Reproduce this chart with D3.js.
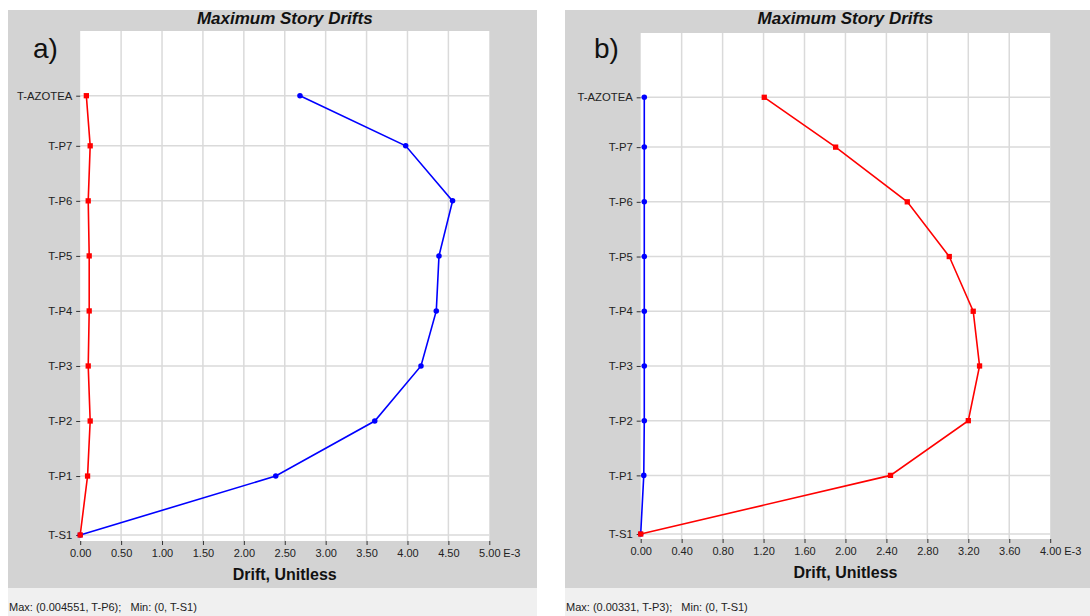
<!DOCTYPE html>
<html>
<head>
<meta charset="utf-8">
<script src="https://cdn.jsdelivr.net/npm/d3@7"></script>
<style>
  body { margin: 0; background: #fff; }
  svg { display: block; font-family: "Liberation Sans", Arial, sans-serif; }
</style>
</head>
<body>
<svg id="chart" width="1090" height="616"></svg>
<script>
// Story names, bottom to top, and their elevations (m)
const stories = ["T-S1", "T-P1", "T-P2", "T-P3", "T-P4", "T-P5", "T-P6", "T-P7", "T-AZOTEA"];
const elevations = [0, 3.0, 5.8, 8.6, 11.4, 14.2, 17.0, 19.8, 22.35];

// Maximum story drifts (x 1E-3), one value per story
const driftA_blue = [0, 2.39, 3.60, 4.165, 4.352, 4.385, 4.551, 3.978, 2.686];
const driftA_red  = [0, 0.09, 0.122, 0.098, 0.11, 0.11, 0.098, 0.122, 0.075];
const driftB_blue = [0, 0.03, 0.035, 0.035, 0.035, 0.035, 0.035, 0.035, 0.035];
const driftB_red  = [0, 2.44, 3.20, 3.31, 3.248, 3.014, 2.604, 1.904, 1.207];

// Axis ticks
const ticksA = [0, 0.5, 1.0, 1.5, 2.0, 2.5, 3.0, 3.5, 4.0, 4.5, 5.0];
const ticksB = [0, 0.4, 0.8, 1.2, 1.6, 2.0, 2.4, 2.8, 3.2, 3.6, 4.0];

const titleText = "Maximum Story Drifts";
const axisTitle = "Drift, Unitless";
const exponentLabel = "E-3";
const panelLabels = ["a)", "b)"];
const statusLines = [
  "Max: (0.004551, T-P6);   Min: (0, T-S1)",
  "Max: (0.00331, T-P3);   Min: (0, T-S1)"
];

const panels = [
  {
    label: panelLabels[0], status: statusLines[0], ticks: ticksA,
    series: [{ values: driftA_blue, color: "#0000ff", shape: "circle" },
             { values: driftA_red,  color: "#ff0000", shape: "square" }],
    box: { x0: 8, x1: 537 }, plot: { x0: 80.2, x1: 489.3, y0: 31, y1: 541 },
    yRange: [535, 95.7], labelPos: [33, 58]
  },
  {
    label: panelLabels[1], status: statusLines[1], ticks: ticksB,
    series: [{ values: driftB_blue, color: "#0000ff", shape: "circle" },
             { values: driftB_red,  color: "#ff0000", shape: "square" }],
    box: { x0: 565, x1: 1090 }, plot: { x0: 640.7, x1: 1050.2, y0: 33, y1: 539 },
    yRange: [534, 97.3], labelPos: [594, 58]
  }
];

const svg = d3.select("#chart");

panels.forEach(p => {
  const g = svg.append("g");
  const b = p.box, pl = p.plot;

  // frame background and status strip
  g.append("rect").attr("x", b.x0).attr("y", 10).attr("width", b.x1 - b.x0).attr("height", 578)
    .attr("fill", "#d3d3d3");
  g.append("rect").attr("x", b.x0).attr("y", 588).attr("width", b.x1 - b.x0).attr("height", 28)
    .attr("fill", "#f0f0f0");

  // plotting area
  g.append("rect").attr("x", pl.x0).attr("y", pl.y0).attr("width", pl.x1 - pl.x0).attr("height", pl.y1 - pl.y0)
    .attr("fill", "#ffffff");

  const x = d3.scaleLinear().domain([p.ticks[0], p.ticks[p.ticks.length - 1]]).range([pl.x0, pl.x1]);
  const y = d3.scaleLinear().domain([0, elevations[elevations.length - 1]]).range(p.yRange);

  // grid
  g.append("g").selectAll("line").data(p.ticks.slice(1, -1)).join("line")
    .attr("x1", d => x(d)).attr("x2", d => x(d)).attr("y1", pl.y0).attr("y2", pl.y1)
    .attr("stroke", "#dadada").attr("stroke-width", 1.5);
  g.append("g").selectAll("line").data(elevations).join("line")
    .attr("x1", pl.x0).attr("x2", pl.x1).attr("y1", d => y(d)).attr("y2", d => y(d))
    .attr("stroke", "#dadada").attr("stroke-width", 1.5);

  // x axis
  const xa = g.append("g").attr("transform", `translate(0,${pl.y1})`)
    .call(d3.axisBottom(x).tickValues(p.ticks).tickFormat(d3.format(".2f")).tickSize(4).tickPadding(4));
  xa.select(".domain").remove();
  xa.selectAll("line").attr("stroke", "#333");
  xa.selectAll("text").attr("font-size", 11).attr("fill", "#222")
    .attr("font-family", "'Liberation Sans', Arial, sans-serif");
  g.append("text").attr("x", x(p.ticks[p.ticks.length - 1]) + 14).attr("y", pl.y1 + 16)
    .attr("font-size", 11).attr("fill", "#222").text(exponentLabel);

  // y axis
  const ya = g.append("g").attr("transform", `translate(${pl.x0},0)`)
    .call(d3.axisLeft(y).tickValues(elevations).tickFormat((d, i) => stories[i]).tickSize(4).tickPadding(4));
  ya.select(".domain").remove();
  ya.selectAll("line").attr("stroke", "#333");
  ya.selectAll("text").attr("font-size", 11.3).attr("fill", "#222")
    .attr("font-family", "'Liberation Sans', Arial, sans-serif");

  // titles
  const cx = (pl.x0 + pl.x1) / 2;
  g.append("text").attr("x", cx).attr("y", 23.5).attr("text-anchor", "middle")
    .attr("font-size", 17).attr("font-weight", "bold").attr("font-style", "italic").attr("fill", "#111")
    .text(titleText);
  g.append("text").attr("x", cx).attr("y", pl.y1 + 39).attr("text-anchor", "middle")
    .attr("font-size", 16).attr("font-weight", "bold").attr("fill", "#111")
    .text(axisTitle);
  g.append("text").attr("x", p.labelPos[0]).attr("y", p.labelPos[1])
    .attr("font-size", 28).attr("fill", "#111").text(p.label);
  g.append("text").attr("x", b.x0 + 1).attr("y", 611)
    .attr("font-size", 11).attr("fill", "#222").attr("xml:space", "preserve")
    .style("white-space", "pre").text(p.status);

  // series lines and markers
  const line = d3.line().x(d => x(d[0])).y(d => y(d[1]));
  p.series.forEach(s => {
    const pts = s.values.map((v, i) => [v, elevations[i]]);
    g.append("path").attr("d", line(pts)).attr("fill", "none")
      .attr("stroke", s.color).attr("stroke-width", 1.6);
    const sym = d3.symbol().type(s.shape === "square" ? d3.symbolSquare : d3.symbolCircle)
      .size(s.shape === "square" ? 28 : 24);
    g.append("g").selectAll("path").data(pts).join("path")
      .attr("transform", d => `translate(${x(d[0])},${y(d[1])})`)
      .attr("d", sym).attr("fill", s.color);
  });
});
</script>
</body>
</html>
